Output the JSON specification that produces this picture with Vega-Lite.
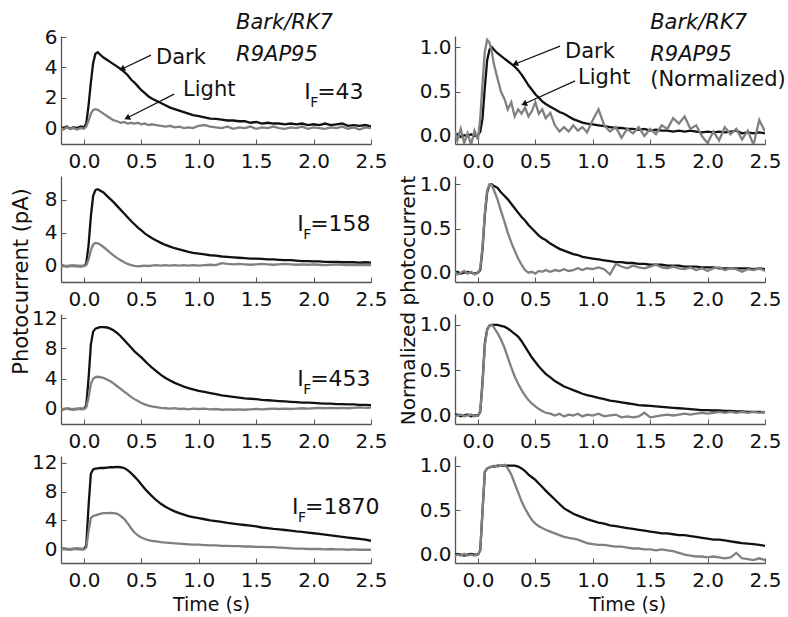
{
"$schema": "https://vega.github.io/schema/vega-lite/v6.json",
"background": "white",
"padding": {"left": 9, "top": 12, "right": 5, "bottom": 0},
"bounds": "flush",
"columns": 2,
"spacing": {"row": 32, "column": 84},
"datasets": {"tr": [
{"t":-0.2,"d1L":0.05,"l1L":0,"d1R":0,"l1R":0.05,"d2L":0,"l2L":0.05,"d2R":0,"l2R":0.01,"d3L":0,"l3L":-0.05,"d3R":0,"l3R":-0.01,"d4L":0,"l4L":-0.05,"d4R":0,"l4R":-0.01},
{"t":-0.18,"d1L":0,"l1L":-0.1,"d1R":0.02,"l1R":-0.05,"d2L":0.05,"l2L":-0.05,"d2R":0.01,"l2R":-0.02,"d3L":-0.05,"l3L":0,"d3R":0.01,"l3R":0,"d4L":0.05,"l4L":0,"d4R":0.01,"l4R":0},
{"t":-0.15,"d1L":0.1,"l1L":0.05,"d1R":-0.01,"l1R":0.08,"d2L":-0.05,"l2L":0,"d2R":-0.01,"l2R":0,"d3L":0.05,"l3L":0.05,"d3R":-0.01,"l3R":0.01,"d4L":0,"l4L":-0.05,"d4R":0,"l4R":-0.01},
{"t":-0.12,"d1L":-0.05,"l1L":-0.05,"d1R":0.01,"l1R":-0.08,"d2L":0,"l2L":0.05,"d2R":0,"l2R":0.02,"d3L":0,"l3L":-0.05,"d3R":0,"l3R":-0.01,"d4L":-0.05,"l4L":0,"d4R":-0.01,"l4R":0.01},
{"t":-0.09,"d1L":0.05,"l1L":0,"d1R":0,"l1R":0.03,"d2L":0.05,"l2L":-0.05,"d2R":0.01,"l2R":-0.01,"d3L":-0.05,"l3L":0,"d3R":0.01,"l3R":0,"d4L":0,"l4L":0.05,"d4R":0,"l4R":-0.01},
{"t":-0.06,"d1L":0,"l1L":-0.1,"d1R":0.02,"l1R":-0.1,"d2L":0,"l2L":0,"d2R":0,"l2R":0.01,"d3L":0,"l3L":0.05,"d3R":-0.01,"l3R":0.01,"d4L":0.05,"l4L":-0.05,"d4R":0.01,"l4R":0},
{"t":-0.03,"d1L":0.1,"l1L":0,"d1R":0,"l1R":0.06,"d2L":-0.05,"l2L":0.05,"d2R":-0.01,"l2R":-0.02,"d3L":0.05,"l3L":-0.05,"d3R":0,"l3R":-0.01,"d4L":0,"l4L":0,"d4R":0,"l4R":-0.01},
{"t":0,"d1L":0.05,"l1L":-0.05,"d1R":0.01,"l1R":-0.04,"d2L":0,"l2L":0,"d2R":0,"l2R":0,"d3L":0,"l3L":0,"d3R":0,"l3R":0,"d4L":0,"l4L":-0.05,"d4R":0,"l4R":0},
{"t":0.02,"d1L":0.3,"l1L":0.1,"d1R":0.05,"l1R":0.2,"d2L":0.3,"l2L":0.1,"d2R":0.03,"l2R":0.05,"d3L":0.5,"l3L":0.2,"d3R":0.04,"l3R":0.05,"d4L":0.5,"l4L":0.2,"d4R":0.05,"l4R":0.05},
{"t":0.04,"d1L":1.5,"l1L":0.5,"d1R":0.2,"l1R":0.6,"d2L":2.5,"l2L":0.8,"d2R":0.27,"l2R":0.3,"d3L":4.0,"l3L":1.5,"d3R":0.38,"l3R":0.35,"d4L":6.0,"l4L":2.5,"d4R":0.5,"l4R":0.5},
{"t":0.06,"d1L":3.0,"l1L":0.95,"d1R":0.55,"l1R":0.95,"d2L":6.0,"l2L":1.9,"d2R":0.65,"l2R":0.68,"d3L":8.5,"l3L":3.3,"d3R":0.8,"l3R":0.78,"d4L":10.5,"l4L":4.3,"d4R":0.93,"l4R":0.93},
{"t":0.08,"d1L":4.3,"l1L":1.2,"d1R":0.85,"l1R":1.08,"d2L":8.5,"l2L":2.6,"d2R":0.91,"l2R":0.93,"d3L":10.2,"l3L":4.0,"d3R":0.95,"l3R":0.94,"d4L":11.1,"l4L":4.6,"d4R":0.97,"l4R":0.97},
{"t":0.1,"d1L":4.9,"l1L":1.25,"d1R":0.97,"l1R":1.05,"d2L":9.2,"l2L":2.8,"d2R":0.99,"l2R":1.0,"d3L":10.6,"l3L":4.2,"d3R":0.99,"l3R":0.99,"d4L":11.2,"l4L":4.7,"d4R":0.98,"l4R":0.98},
{"t":0.12,"d1L":5.0,"l1L":1.2,"d1R":1.0,"l1R":0.95,"d2L":9.3,"l2L":2.75,"d2R":1.0,"l2R":0.99,"d3L":10.7,"l3L":4.25,"d3R":1.0,"l3R":1.0,"d4L":11.25,"l4L":4.8,"d4R":0.99,"l4R":0.99},
{"t":0.14,"d1L":4.85,"l1L":1.1,"d1R":0.97,"l1R":0.8,"d2L":9.15,"l2L":2.6,"d2R":0.98,"l2R":0.93,"d3L":10.8,"l3L":4.2,"d3R":1.0,"l3R":0.97,"d4L":11.3,"l4L":4.9,"d4R":0.99,"l4R":1.0},
{"t":0.17,"d1L":4.65,"l1L":0.95,"d1R":0.93,"l1R":0.65,"d2L":8.9,"l2L":2.3,"d2R":0.96,"l2R":0.83,"d3L":10.8,"l3L":4.1,"d3R":1.0,"l3R":0.91,"d4L":11.3,"l4L":5.0,"d4R":1.0,"l4R":0.99},
{"t":0.2,"d1L":4.5,"l1L":0.8,"d1R":0.9,"l1R":0.5,"d2L":8.5,"l2L":1.95,"d2R":0.91,"l2R":0.7,"d3L":10.75,"l3L":3.9,"d3R":0.99,"l3R":0.84,"d4L":11.35,"l4L":5.0,"d4R":1.0,"l4R":1.0},
{"t":0.23,"d1L":4.35,"l1L":0.65,"d1R":0.87,"l1R":0.42,"d2L":8.1,"l2L":1.6,"d2R":0.87,"l2R":0.58,"d3L":10.6,"l3L":3.65,"d3R":0.98,"l3R":0.75,"d4L":11.4,"l4L":5.05,"d4R":1.0,"l4R":1.01},
{"t":0.26,"d1L":4.2,"l1L":0.5,"d1R":0.84,"l1R":0.3,"d2L":7.7,"l2L":1.25,"d2R":0.83,"l2R":0.45,"d3L":10.35,"l3L":3.35,"d3R":0.96,"l3R":0.64,"d4L":11.4,"l4L":5.0,"d4R":1.0,"l4R":0.97},
{"t":0.29,"d1L":4.05,"l1L":0.45,"d1R":0.81,"l1R":0.38,"d2L":7.25,"l2L":0.95,"d2R":0.78,"l2R":0.34,"d3L":10.0,"l3L":3.0,"d3R":0.93,"l3R":0.53,"d4L":11.45,"l4L":4.9,"d4R":1.0,"l4R":0.9},
{"t":0.32,"d1L":3.9,"l1L":0.35,"d1R":0.78,"l1R":0.22,"d2L":6.8,"l2L":0.7,"d2R":0.73,"l2R":0.25,"d3L":9.6,"l3L":2.65,"d3R":0.9,"l3R":0.43,"d4L":11.4,"l4L":4.6,"d4R":1.0,"l4R":0.8},
{"t":0.35,"d1L":3.7,"l1L":0.4,"d1R":0.74,"l1R":0.3,"d2L":6.35,"l2L":0.45,"d2R":0.68,"l2R":0.16,"d3L":9.1,"l3L":2.3,"d3R":0.87,"l3R":0.35,"d4L":11.3,"l4L":4.2,"d4R":0.99,"l4R":0.7},
{"t":0.38,"d1L":3.5,"l1L":0.3,"d1R":0.69,"l1R":0.25,"d2L":5.9,"l2L":0.25,"d2R":0.63,"l2R":0.09,"d3L":8.6,"l3L":1.95,"d3R":0.82,"l3R":0.28,"d4L":11.0,"l4L":3.6,"d4R":0.97,"l4R":0.6},
{"t":0.41,"d1L":3.2,"l1L":0.35,"d1R":0.63,"l1R":0.32,"d2L":5.45,"l2L":0.1,"d2R":0.59,"l2R":0.03,"d3L":8.1,"l3L":1.6,"d3R":0.76,"l3R":0.22,"d4L":10.6,"l4L":2.9,"d4R":0.94,"l4R":0.52},
{"t":0.44,"d1L":3.0,"l1L":0.3,"d1R":0.57,"l1R":0.22,"d2L":5.05,"l2L":0,"d2R":0.54,"l2R":0,"d3L":7.6,"l3L":1.3,"d3R":0.7,"l3R":0.17,"d4L":10.1,"l4L":2.3,"d4R":0.9,"l4R":0.45},
{"t":0.47,"d1L":2.75,"l1L":0.35,"d1R":0.52,"l1R":0.28,"d2L":4.65,"l2L":-0.05,"d2R":0.5,"l2R":0.01,"d3L":7.2,"l3L":1.05,"d3R":0.64,"l3R":0.13,"d4L":9.6,"l4L":1.9,"d4R":0.87,"l4R":0.39},
{"t":0.5,"d1L":2.5,"l1L":0.25,"d1R":0.47,"l1R":0.38,"d2L":4.3,"l2L":0,"d2R":0.46,"l2R":-0.01,"d3L":6.8,"l3L":0.8,"d3R":0.59,"l3R":0.1,"d4L":9.0,"l4L":1.6,"d4R":0.84,"l4R":0.35},
{"t":0.53,"d1L":2.3,"l1L":0.3,"d1R":0.43,"l1R":0.25,"d2L":3.95,"l2L":0.05,"d2R":0.42,"l2R":0.02,"d3L":6.35,"l3L":0.6,"d3R":0.54,"l3R":0.07,"d4L":8.4,"l4L":1.4,"d4R":0.8,"l4R":0.32},
{"t":0.56,"d1L":2.1,"l1L":0.2,"d1R":0.39,"l1R":0.3,"d2L":3.65,"l2L":0,"d2R":0.39,"l2R":0.01,"d3L":5.9,"l3L":0.45,"d3R":0.5,"l3R":0.05,"d4L":7.9,"l4L":1.25,"d4R":0.76,"l4R":0.3},
{"t":0.59,"d1L":1.95,"l1L":0.25,"d1R":0.36,"l1R":0.2,"d2L":3.4,"l2L":0.05,"d2R":0.37,"l2R":0.03,"d3L":5.5,"l3L":0.35,"d3R":0.46,"l3R":0.03,"d4L":7.4,"l4L":1.15,"d4R":0.72,"l4R":0.28},
{"t":0.63,"d1L":1.8,"l1L":0.2,"d1R":0.33,"l1R":0.26,"d2L":3.1,"l2L":0.1,"d2R":0.33,"l2R":0.01,"d3L":5.0,"l3L":0.25,"d3R":0.42,"l3R":0.02,"d4L":6.8,"l4L":1.05,"d4R":0.67,"l4R":0.26},
{"t":0.67,"d1L":1.65,"l1L":0.15,"d1R":0.3,"l1R":0.12,"d2L":2.8,"l2L":0.05,"d2R":0.3,"l2R":0.03,"d3L":4.5,"l3L":0.15,"d3R":0.38,"l3R":0,"d4L":6.3,"l4L":0.95,"d4R":0.62,"l4R":0.24},
{"t":0.71,"d1L":1.5,"l1L":0.1,"d1R":0.27,"l1R":0.05,"d2L":2.55,"l2L":0.1,"d2R":0.27,"l2R":0.02,"d3L":4.1,"l3L":0.1,"d3R":0.35,"l3R":0.02,"d4L":5.9,"l4L":0.9,"d4R":0.57,"l4R":0.22},
{"t":0.75,"d1L":1.35,"l1L":0.15,"d1R":0.25,"l1R":0.1,"d2L":2.35,"l2L":0.05,"d2R":0.25,"l2R":0.04,"d3L":3.75,"l3L":0.05,"d3R":0.32,"l3R":-0.01,"d4L":5.55,"l4L":0.85,"d4R":0.52,"l4R":0.2},
{"t":0.79,"d1L":1.25,"l1L":0.05,"d1R":0.22,"l1R":0.05,"d2L":2.15,"l2L":0.1,"d2R":0.23,"l2R":0.02,"d3L":3.45,"l3L":0.1,"d3R":0.3,"l3R":0.01,"d4L":5.25,"l4L":0.8,"d4R":0.49,"l4R":0.19},
{"t":0.83,"d1L":1.15,"l1L":0.1,"d1R":0.19,"l1R":0.12,"d2L":2.0,"l2L":0.05,"d2R":0.21,"l2R":0.03,"d3L":3.2,"l3L":0,"d3R":0.28,"l3R":0,"d4L":5.0,"l4L":0.75,"d4R":0.46,"l4R":0.18},
{"t":0.87,"d1L":1.05,"l1L":0,"d1R":0.17,"l1R":0.06,"d2L":1.85,"l2L":0.1,"d2R":0.2,"l2R":0.05,"d3L":2.95,"l3L":0.05,"d3R":0.26,"l3R":0.02,"d4L":4.8,"l4L":0.7,"d4R":0.44,"l4R":0.17},
{"t":0.91,"d1L":0.95,"l1L":0.05,"d1R":0.15,"l1R":0.1,"d2L":1.7,"l2L":0.05,"d2R":0.18,"l2R":0.03,"d3L":2.75,"l3L":-0.05,"d3R":0.24,"l3R":-0.01,"d4L":4.6,"l4L":0.65,"d4R":0.42,"l4R":0.15},
{"t":0.95,"d1L":0.85,"l1L":0,"d1R":0.14,"l1R":0.04,"d2L":1.6,"l2L":0.1,"d2R":0.17,"l2R":0.05,"d3L":2.6,"l3L":0.05,"d3R":0.225,"l3R":0.01,"d4L":4.45,"l4L":0.6,"d4R":0.4,"l4R":0.13},
{"t":1.0,"d1L":0.78,"l1L":0.15,"d1R":0.13,"l1R":0.18,"d2L":1.5,"l2L":0.05,"d2R":0.16,"l2R":0.04,"d3L":2.4,"l3L":0,"d3R":0.21,"l3R":0,"d4L":4.3,"l4L":0.6,"d4R":0.38,"l4R":0.12},
{"t":1.05,"d1L":0.7,"l1L":0.2,"d1R":0.12,"l1R":0.3,"d2L":1.4,"l2L":0.1,"d2R":0.15,"l2R":0.06,"d3L":2.25,"l3L":0.05,"d3R":0.195,"l3R":0.02,"d4L":4.15,"l4L":0.55,"d4R":0.36,"l4R":0.11},
{"t":1.1,"d1L":0.62,"l1L":0.1,"d1R":0.11,"l1R":0.12,"d2L":1.3,"l2L":0.15,"d2R":0.14,"l2R":0.04,"d3L":2.1,"l3L":-0.05,"d3R":0.18,"l3R":-0.01,"d4L":4.0,"l4L":0.5,"d4R":0.35,"l4R":0.11},
{"t":1.15,"d1L":0.6,"l1L":0.05,"d1R":0.1,"l1R":0.05,"d2L":1.25,"l2L":0.1,"d2R":0.13,"l2R":-0.02,"d3L":1.95,"l3L":0,"d3R":0.165,"l3R":0,"d4L":3.9,"l4L":0.5,"d4R":0.33,"l4R":0.1},
{"t":1.2,"d1L":0.55,"l1L":0,"d1R":0.09,"l1R":0.1,"d2L":1.15,"l2L":0.35,"d2R":0.12,"l2R":0.1,"d3L":1.8,"l3L":-0.1,"d3R":0.155,"l3R":0.01,"d4L":3.8,"l4L":0.45,"d4R":0.32,"l4R":0.09},
{"t":1.25,"d1L":0.5,"l1L":0.1,"d1R":0.09,"l1R":-0.02,"d2L":1.1,"l2L":0.25,"d2R":0.12,"l2R":0.07,"d3L":1.7,"l3L":-0.05,"d3R":0.145,"l3R":-0.02,"d4L":3.65,"l4L":0.45,"d4R":0.31,"l4R":0.09},
{"t":1.3,"d1L":0.5,"l1L":-0.05,"d1R":0.08,"l1R":0.08,"d2L":1.05,"l2L":0.2,"d2R":0.11,"l2R":0.05,"d3L":1.6,"l3L":-0.1,"d3R":0.135,"l3R":-0.01,"d4L":3.55,"l4L":0.4,"d4R":0.3,"l4R":0.08},
{"t":1.35,"d1L":0.45,"l1L":0.05,"d1R":0.08,"l1R":0.03,"d2L":1.0,"l2L":0.25,"d2R":0.11,"l2R":0.08,"d3L":1.5,"l3L":-0.05,"d3R":0.125,"l3R":-0.02,"d4L":3.45,"l4L":0.4,"d4R":0.29,"l4R":0.07},
{"t":1.4,"d1L":0.45,"l1L":0,"d1R":0.07,"l1R":0.1,"d2L":0.95,"l2L":0.2,"d2R":0.1,"l2R":0.06,"d3L":1.4,"l3L":-0.1,"d3R":0.115,"l3R":-0.01,"d4L":3.35,"l4L":0.35,"d4R":0.28,"l4R":0.07},
{"t":1.45,"d1L":0.35,"l1L":0.1,"d1R":0.08,"l1R":0,"d2L":0.9,"l2L":0.15,"d2R":0.1,"l2R":0.05,"d3L":1.35,"l3L":-0.05,"d3R":0.11,"l3R":0.03,"d4L":3.25,"l4L":0.35,"d4R":0.27,"l4R":0.06},
{"t":1.5,"d1L":0.4,"l1L":-0.05,"d1R":0.06,"l1R":0.08,"d2L":0.9,"l2L":0.2,"d2R":0.09,"l2R":0.07,"d3L":1.3,"l3L":0,"d3R":0.105,"l3R":-0.02,"d4L":3.15,"l4L":0.3,"d4R":0.26,"l4R":0.06},
{"t":1.55,"d1L":0.3,"l1L":0.05,"d1R":0.07,"l1R":0.02,"d2L":0.85,"l2L":0.25,"d2R":0.09,"l2R":0.09,"d3L":1.2,"l3L":-0.05,"d3R":0.1,"l3R":-0.01,"d4L":3.0,"l4L":0.3,"d4R":0.25,"l4R":0.05},
{"t":1.6,"d1L":0.35,"l1L":0,"d1R":0.06,"l1R":0.12,"d2L":0.8,"l2L":0.2,"d2R":0.09,"l2R":0.06,"d3L":1.15,"l3L":0,"d3R":0.095,"l3R":0,"d4L":2.9,"l4L":0.25,"d4R":0.24,"l4R":0.06},
{"t":1.65,"d1L":0.3,"l1L":0.1,"d1R":0.06,"l1R":0.08,"d2L":0.8,"l2L":0.15,"d2R":0.08,"l2R":0.05,"d3L":1.1,"l3L":0.05,"d3R":0.09,"l3R":0.01,"d4L":2.8,"l4L":0.25,"d4R":0.24,"l4R":0.05},
{"t":1.7,"d1L":0.3,"l1L":0,"d1R":0.05,"l1R":0.2,"d2L":0.75,"l2L":0.2,"d2R":0.08,"l2R":0.07,"d3L":1.05,"l3L":0,"d3R":0.085,"l3R":0,"d4L":2.75,"l4L":0.2,"d4R":0.23,"l4R":0.04},
{"t":1.75,"d1L":0.25,"l1L":-0.05,"d1R":0.06,"l1R":0.14,"d2L":0.7,"l2L":0.25,"d2R":0.08,"l2R":0.05,"d3L":1.0,"l3L":0.05,"d3R":0.08,"l3R":0.01,"d4L":2.65,"l4L":0.15,"d4R":0.22,"l4R":0.02},
{"t":1.8,"d1L":0.3,"l1L":0.05,"d1R":0.05,"l1R":0.22,"d2L":0.7,"l2L":0.2,"d2R":0.07,"l2R":0.04,"d3L":0.95,"l3L":0,"d3R":0.075,"l3R":0.02,"d4L":2.55,"l4L":0.1,"d4R":0.22,"l4R":0},
{"t":1.85,"d1L":0.25,"l1L":0,"d1R":0.06,"l1R":0.08,"d2L":0.65,"l2L":0.15,"d2R":0.07,"l2R":0.06,"d3L":0.9,"l3L":0.05,"d3R":0.07,"l3R":0.01,"d4L":2.45,"l4L":0.05,"d4R":0.21,"l4R":-0.01},
{"t":1.9,"d1L":0.3,"l1L":0.1,"d1R":0.05,"l1R":0.12,"d2L":0.6,"l2L":0.2,"d2R":0.07,"l2R":0.03,"d3L":0.85,"l3L":0.1,"d3R":0.065,"l3R":0.02,"d4L":2.4,"l4L":0.05,"d4R":0.2,"l4R":-0.02},
{"t":1.95,"d1L":0.2,"l1L":-0.05,"d1R":0.04,"l1R":0,"d2L":0.6,"l2L":0.15,"d2R":0.06,"l2R":0.05,"d3L":0.85,"l3L":0.05,"d3R":0.06,"l3R":0.03,"d4L":2.3,"l4L":0,"d4R":0.19,"l4R":-0.02},
{"t":2.0,"d1L":0.25,"l1L":0.05,"d1R":0.05,"l1R":-0.08,"d2L":0.55,"l2L":0.2,"d2R":0.06,"l2R":0.02,"d3L":0.8,"l3L":0.1,"d3R":0.06,"l3R":0.02,"d4L":2.2,"l4L":0,"d4R":0.18,"l4R":-0.03},
{"t":2.05,"d1L":0.2,"l1L":0,"d1R":0.04,"l1R":0.05,"d2L":0.55,"l2L":0.15,"d2R":0.06,"l2R":0.05,"d3L":0.75,"l3L":0.15,"d3R":0.055,"l3R":0.03,"d4L":2.1,"l4L":0,"d4R":0.17,"l4R":-0.02},
{"t":2.1,"d1L":0.3,"l1L":-0.05,"d1R":0.05,"l1R":-0.05,"d2L":0.5,"l2L":0.1,"d2R":0.05,"l2R":0.06,"d3L":0.7,"l3L":0.1,"d3R":0.055,"l3R":0.04,"d4L":2.0,"l4L":-0.05,"d4R":0.17,"l4R":-0.03},
{"t":2.15,"d1L":0.2,"l1L":0.05,"d1R":0.04,"l1R":0.1,"d2L":0.5,"l2L":0.15,"d2R":0.05,"l2R":0.03,"d3L":0.7,"l3L":0.15,"d3R":0.05,"l3R":0.03,"d4L":1.9,"l4L":0,"d4R":0.16,"l4R":-0.04},
{"t":2.2,"d1L":0.25,"l1L":0,"d1R":0.05,"l1R":0.02,"d2L":0.5,"l2L":0.2,"d2R":0.05,"l2R":0.05,"d3L":0.65,"l3L":0.1,"d3R":0.05,"l3R":0.04,"d4L":1.8,"l4L":-0.05,"d4R":0.15,"l4R":-0.03},
{"t":2.25,"d1L":0.3,"l1L":0.1,"d1R":0.06,"l1R":0.08,"d2L":0.45,"l2L":0.15,"d2R":0.05,"l2R":0.04,"d3L":0.65,"l3L":0.15,"d3R":0.045,"l3R":0.03,"d4L":1.7,"l4L":-0.05,"d4R":0.14,"l4R":0.02},
{"t":2.3,"d1L":0.15,"l1L":-0.05,"d1R":0.03,"l1R":-0.04,"d2L":0.45,"l2L":0.1,"d2R":0.05,"l2R":0.01,"d3L":0.6,"l3L":0.1,"d3R":0.045,"l3R":0.04,"d4L":1.6,"l4L":-0.1,"d4R":0.13,"l4R":-0.04},
{"t":2.35,"d1L":0.2,"l1L":0.05,"d1R":0.04,"l1R":0.06,"d2L":0.45,"l2L":0.15,"d2R":0.05,"l2R":0.04,"d3L":0.6,"l3L":0.15,"d3R":0.04,"l3R":0.03,"d4L":1.5,"l4L":-0.05,"d4R":0.125,"l4R":-0.05},
{"t":2.4,"d1L":0.15,"l1L":-0.1,"d1R":0.03,"l1R":-0.1,"d2L":0.4,"l2L":0.1,"d2R":0.04,"l2R":0.03,"d3L":0.55,"l3L":0.2,"d3R":0.04,"l3R":0.04,"d4L":1.4,"l4L":-0.1,"d4R":0.12,"l4R":-0.06},
{"t":2.45,"d1L":0.2,"l1L":0.05,"d1R":0.04,"l1R":0.18,"d2L":0.45,"l2L":0.15,"d2R":0.05,"l2R":0.05,"d3L":0.55,"l3L":0.15,"d3R":0.04,"l3R":0.03,"d4L":1.3,"l4L":-0.1,"d4R":0.11,"l4R":-0.04},
{"t":2.5,"d1L":0.1,"l1L":0,"d1R":0.03,"l1R":0.05,"d2L":0.4,"l2L":0.1,"d2R":0.04,"l2R":0.02,"d3L":0.5,"l3L":0.2,"d3R":0.035,"l3R":0.04,"d4L":1.15,"l4L":-0.1,"d4R":0.1,"l4R":-0.06}
]},
"concat": [
{
 "width": 310, "height": 108,
 "encoding": {
  "x": {"field": "t", "type": "quantitative", "scale": {"domain": [-0.2, 2.5], "nice": false, "zero": false}, "axis": {"values": [0, 0.5, 1, 1.5, 2, 2.5], "format": ".1f", "title": null}},
  "y": {"field": "v", "type": "quantitative", "scale": {"domain": [-1.05, 6.07], "nice": false, "zero": false}, "axis": {"values": [0, 2, 4, 6], "title": null}}
 },
 "layer": [
  {"data": {"name": "tr"}, "transform": [{"fold": ["d1L", "l1L"], "as": ["s", "v"]}],
   "mark": {"type": "line", "strokeWidth": 2.3, "clip": true},
   "encoding": {"color": {"field": "s", "type": "nominal", "scale": {"domain": ["d1L", "l1L"], "range": ["#111111", "#808080"]}, "legend": null}}},
  {"data": {"values": [{"t": 1.325, "v": 6.5, "lab": "Bark/RK7"}, {"t": 1.325, "v": 4.4, "lab": "R9AP95"}]},
   "mark": {"type": "text", "align": "left", "baseline": "alphabetic", "fontSize": 21, "fontStyle": "italic"},
   "encoding": {"text": {"field": "lab"}}},
  {"data": {"values": [{"t": 0.628, "v": 4.25, "lab": "Dark"}, {"t": 0.863, "v": 2.1, "lab": "Light"}]},
   "mark": {"type": "text", "align": "left", "baseline": "alphabetic", "fontSize": 21},
   "encoding": {"text": {"field": "lab"}}},
  {"data": {"values": [{"t": 1.918, "v": 1.9, "lab": "I"}]},
   "mark": {"type": "text", "align": "left", "baseline": "alphabetic", "fontSize": 22},
   "encoding": {"text": {"field": "lab"}}},
  {"data": {"values": [{"t": 1.918, "v": 1.9, "lab": "F"}]},
   "mark": {"type": "text", "align": "left", "baseline": "alphabetic", "fontSize": 14, "dx": 6, "dy": 8},
   "encoding": {"text": {"field": "lab"}}},
  {"data": {"values": [{"t": 1.918, "v": 1.9, "lab": "=43"}]},
   "mark": {"type": "text", "align": "left", "baseline": "alphabetic", "fontSize": 22, "dx": 13},
   "encoding": {"text": {"field": "lab"}}},
  {"data": {"values": [{"t": 0.331, "v": 3.89, "t2": 0.584, "v2": 4.81}, {"t": 0.375, "v": 0.66, "t2": 0.785, "v2": 2.24}]},
   "mark": {"type": "rule", "color": "#111", "strokeWidth": 1.2},
   "encoding": {"x2": {"field": "t2"}, "y2": {"field": "v2"}}},
  {"data": {"values": [{"t": 0.331, "v": 3.89}, {"t": 0.375, "v": 0.66}]},
   "mark": {"type": "point", "shape": "triangle-right", "angle": 154, "size": 45, "filled": true, "color": "#111", "opacity": 1},
   "encoding": {}}
 ]
},
{
 "width": 310, "height": 108,
 "encoding": {
  "x": {"field": "t", "type": "quantitative", "scale": {"domain": [-0.2, 2.5], "nice": false, "zero": false}, "axis": {"values": [0, 0.5, 1, 1.5, 2, 2.5], "format": ".1f", "title": null}},
  "y": {"field": "v", "type": "quantitative", "scale": {"domain": [-0.09, 1.124], "nice": false, "zero": false}, "axis": {"values": [0, 0.5, 1], "format": ".1f", "title": null}}
 },
 "layer": [
  {"data": {"name": "tr"}, "transform": [{"fold": ["d1R", "l1R"], "as": ["s", "v"]}],
   "mark": {"type": "line", "strokeWidth": 2.3, "clip": true},
   "encoding": {"color": {"field": "s", "type": "nominal", "scale": {"domain": ["d1R", "l1R"], "range": ["#111111", "#808080"]}, "legend": null}}},
  {"data": {"values": [{"t": 1.5, "v": 1.2, "lab": "Bark/RK7"}, {"t": 1.5, "v": 0.84, "lab": "R9AP95"}]},
   "mark": {"type": "text", "align": "left", "baseline": "alphabetic", "fontSize": 21, "fontStyle": "italic"},
   "encoding": {"text": {"field": "lab"}}},
  {"data": {"values": [{"t": 1.5, "v": 0.56, "lab": "(Normalized)"}, {"t": 0.758, "v": 0.876, "lab": "Dark"}, {"t": 0.872, "v": 0.58, "lab": "Light"}]},
   "mark": {"type": "text", "align": "left", "baseline": "alphabetic", "fontSize": 21},
   "encoding": {"text": {"field": "lab"}}},
  {"data": {"values": [{"t": 0.323, "v": 0.81, "t2": 0.715, "v2": 1.01}, {"t": 0.401, "v": 0.36, "t2": 0.846, "v2": 0.62}]},
   "mark": {"type": "rule", "color": "#111", "strokeWidth": 1.2},
   "encoding": {"x2": {"field": "t2"}, "y2": {"field": "v2"}}},
  {"data": {"values": [{"t": 0.323, "v": 0.81}, {"t": 0.401, "v": 0.36}]},
   "mark": {"type": "point", "shape": "triangle-right", "angle": 157, "size": 45, "filled": true, "color": "#111", "opacity": 1},
   "encoding": {}}
 ]
},
{
 "width": 310, "height": 106,
 "encoding": {
  "x": {"field": "t", "type": "quantitative", "scale": {"domain": [-0.2, 2.5], "nice": false, "zero": false}, "axis": {"values": [0, 0.5, 1, 1.5, 2, 2.5], "format": ".1f", "title": null}},
  "y": {"field": "v", "type": "quantitative", "scale": {"domain": [-1.94, 10.9], "nice": false, "zero": false}, "axis": {"values": [0, 4, 8], "title": "Photocurrent (pA)", "titleX": -40, "titleY": 105, "titleAngle": -90, "titleAlign": "center", "titleBaseline": "middle", "titleFontSize": 21}}
 },
 "layer": [
  {"data": {"name": "tr"}, "transform": [{"fold": ["d2L", "l2L"], "as": ["s", "v"]}],
   "mark": {"type": "line", "strokeWidth": 2.3, "clip": true},
   "encoding": {"color": {"field": "s", "type": "nominal", "scale": {"domain": ["d2L", "l2L"], "range": ["#111111", "#808080"]}, "legend": null}}},
  {"data": {"values": [{"t": 1.857, "v": 4.24, "lab": "I"}]},
   "mark": {"type": "text", "align": "left", "baseline": "alphabetic", "fontSize": 22},
   "encoding": {"text": {"field": "lab"}}},
  {"data": {"values": [{"t": 1.857, "v": 4.24, "lab": "F"}]},
   "mark": {"type": "text", "align": "left", "baseline": "alphabetic", "fontSize": 14, "dx": 6, "dy": 8},
   "encoding": {"text": {"field": "lab"}}},
  {"data": {"values": [{"t": 1.857, "v": 4.24, "lab": "=158"}]},
   "mark": {"type": "text", "align": "left", "baseline": "alphabetic", "fontSize": 22, "dx": 13},
   "encoding": {"text": {"field": "lab"}}}
 ]
},
{
 "width": 310, "height": 106,
 "encoding": {
  "x": {"field": "t", "type": "quantitative", "scale": {"domain": [-0.2, 2.5], "nice": false, "zero": false}, "axis": {"values": [0, 0.5, 1, 1.5, 2, 2.5], "format": ".1f", "title": null}},
  "y": {"field": "v", "type": "quantitative", "scale": {"domain": [-0.105, 1.094], "nice": false, "zero": false}, "axis": {"values": [0, 0.5, 1], "format": ".1f", "title": "Normalized photocurrent", "titleX": -47, "titleY": 124, "titleAngle": -90, "titleAlign": "center", "titleBaseline": "middle", "titleFontSize": 20}}
 },
 "layer": [
  {"data": {"name": "tr"}, "transform": [{"fold": ["d2R", "l2R"], "as": ["s", "v"]}],
   "mark": {"type": "line", "strokeWidth": 2.3, "clip": true},
   "encoding": {"color": {"field": "s", "type": "nominal", "scale": {"domain": ["d2R", "l2R"], "range": ["#111111", "#808080"]}, "legend": null}}}
 ]
},
{
 "width": 310, "height": 110,
 "encoding": {
  "x": {"field": "t", "type": "quantitative", "scale": {"domain": [-0.2, 2.5], "nice": false, "zero": false}, "axis": {"values": [0, 0.5, 1, 1.5, 2, 2.5], "format": ".1f", "title": null}},
  "y": {"field": "v", "type": "quantitative", "scale": {"domain": [-1.98, 12.53], "nice": false, "zero": false}, "axis": {"values": [0, 4, 8, 12], "title": null}}
 },
 "layer": [
  {"data": {"name": "tr"}, "transform": [{"fold": ["d3L", "l3L"], "as": ["s", "v"]}],
   "mark": {"type": "line", "strokeWidth": 2.3, "clip": true},
   "encoding": {"color": {"field": "s", "type": "nominal", "scale": {"domain": ["d3L", "l3L"], "range": ["#111111", "#808080"]}, "legend": null}}},
  {"data": {"values": [{"t": 1.857, "v": 3.0, "lab": "I"}]},
   "mark": {"type": "text", "align": "left", "baseline": "alphabetic", "fontSize": 22},
   "encoding": {"text": {"field": "lab"}}},
  {"data": {"values": [{"t": 1.857, "v": 3.0, "lab": "F"}]},
   "mark": {"type": "text", "align": "left", "baseline": "alphabetic", "fontSize": 14, "dx": 6, "dy": 8},
   "encoding": {"text": {"field": "lab"}}},
  {"data": {"values": [{"t": 1.857, "v": 3.0, "lab": "=453"}]},
   "mark": {"type": "text", "align": "left", "baseline": "alphabetic", "fontSize": 22, "dx": 13},
   "encoding": {"text": {"field": "lab"}}}
 ]
},
{
 "width": 310, "height": 110,
 "encoding": {
  "x": {"field": "t", "type": "quantitative", "scale": {"domain": [-0.2, 2.5], "nice": false, "zero": false}, "axis": {"values": [0, 0.5, 1, 1.5, 2, 2.5], "format": ".1f", "title": null}},
  "y": {"field": "v", "type": "quantitative", "scale": {"domain": [-0.094, 1.12], "nice": false, "zero": false}, "axis": {"values": [0, 0.5, 1], "format": ".1f", "title": null}}
 },
 "layer": [
  {"data": {"name": "tr"}, "transform": [{"fold": ["d3R", "l3R"], "as": ["s", "v"]}],
   "mark": {"type": "line", "strokeWidth": 2.3, "clip": true},
   "encoding": {"color": {"field": "s", "type": "nominal", "scale": {"domain": ["d3R", "l3R"], "range": ["#111111", "#808080"]}, "legend": null}}}
 ]
},
{
 "width": 310, "height": 107,
 "encoding": {
  "x": {"field": "t", "type": "quantitative", "scale": {"domain": [-0.2, 2.5], "nice": false, "zero": false}, "axis": {"values": [0, 0.5, 1, 1.5, 2, 2.5], "format": ".1f", "title": "Time (s)", "titleX": 150, "titleY": 47, "titleAlign": "center", "titleBaseline": "alphabetic", "titleFontSize": 19}},
  "y": {"field": "v", "type": "quantitative", "scale": {"domain": [-1.95, 12.97], "nice": false, "zero": false}, "axis": {"values": [0, 4, 8, 12], "title": null}}
 },
 "layer": [
  {"data": {"name": "tr"}, "transform": [{"fold": ["d4L", "l4L"], "as": ["s", "v"]}],
   "mark": {"type": "line", "strokeWidth": 2.3, "clip": true},
   "encoding": {"color": {"field": "s", "type": "nominal", "scale": {"domain": ["d4L", "l4L"], "range": ["#111111", "#808080"]}, "legend": null}}},
  {"data": {"values": [{"t": 1.813, "v": 4.88, "lab": "I"}]},
   "mark": {"type": "text", "align": "left", "baseline": "alphabetic", "fontSize": 22},
   "encoding": {"text": {"field": "lab"}}},
  {"data": {"values": [{"t": 1.813, "v": 4.88, "lab": "F"}]},
   "mark": {"type": "text", "align": "left", "baseline": "alphabetic", "fontSize": 14, "dx": 6, "dy": 8},
   "encoding": {"text": {"field": "lab"}}},
  {"data": {"values": [{"t": 1.813, "v": 4.88, "lab": "=1870"}]},
   "mark": {"type": "text", "align": "left", "baseline": "alphabetic", "fontSize": 22, "dx": 13},
   "encoding": {"text": {"field": "lab"}}}
 ]
},
{
 "width": 310, "height": 107,
 "encoding": {
  "x": {"field": "t", "type": "quantitative", "scale": {"domain": [-0.2, 2.5], "nice": false, "zero": false}, "axis": {"values": [0, 0.5, 1, 1.5, 2, 2.5], "format": ".1f", "title": "Time (s)", "titleX": 172, "titleY": 47, "titleAlign": "center", "titleBaseline": "alphabetic", "titleFontSize": 19}},
  "y": {"field": "v", "type": "quantitative", "scale": {"domain": [-0.093, 1.109], "nice": false, "zero": false}, "axis": {"values": [0, 0.5, 1], "format": ".1f", "title": null}}
 },
 "layer": [
  {"data": {"name": "tr"}, "transform": [{"fold": ["d4R", "l4R"], "as": ["s", "v"]}],
   "mark": {"type": "line", "strokeWidth": 2.3, "clip": true},
   "encoding": {"color": {"field": "s", "type": "nominal", "scale": {"domain": ["d4R", "l4R"], "range": ["#111111", "#808080"]}, "legend": null}}}
 ]
}
],
"config": {
 "font": "DejaVu Sans",
 "view": {"stroke": null},
 "axis": {"grid": false, "domainColor": "#555555", "domainWidth": 1.3, "tickColor": "#555555", "tickSize": -5, "tickWidth": 1, "labelFont": "DejaVu Sans", "labelFontSize": 20, "labelColor": "#111111", "labelFlush": false, "titleFont": "DejaVu Sans", "titleFontWeight": "normal", "titleColor": "#111111"},
 "axisX": {"labelPadding": 12},
 "axisY": {"labelPadding": 9},
 "text": {"font": "DejaVu Sans", "color": "#111111"}
}
}
